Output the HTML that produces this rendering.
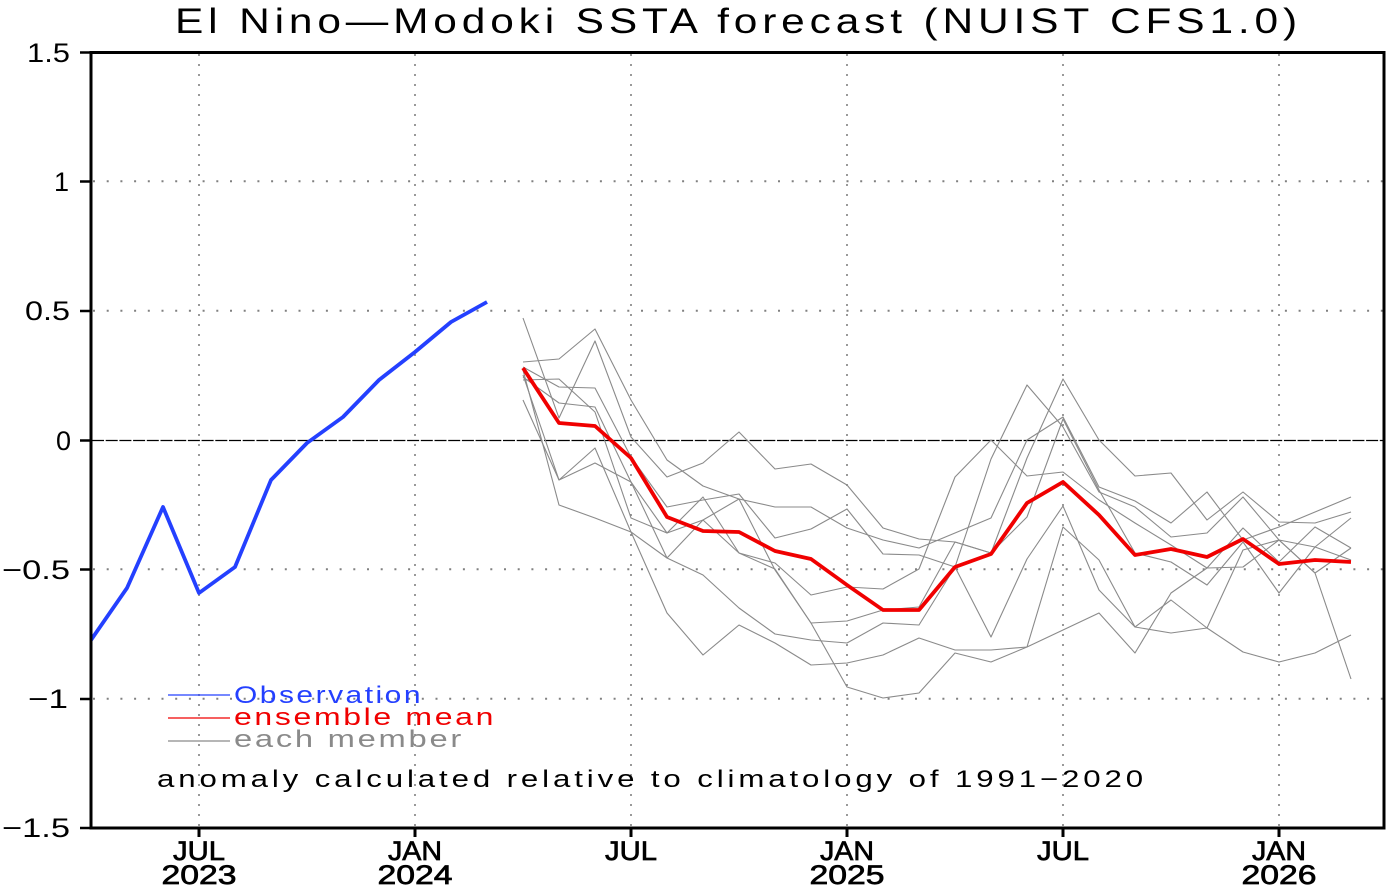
<!DOCTYPE html>
<html>
<head>
<meta charset="utf-8">
<style>
  html,body{margin:0;padding:0;background:#fff;}
  svg{display:block;}
  text{font-family:"Liberation Sans", sans-serif;}
</style>
</head>
<body>
<svg width="1389" height="886" viewBox="0 0 1389 886" xmlns="http://www.w3.org/2000/svg">
  <rect x="0" y="0" width="1389" height="886" fill="#fff"/>

  <!-- Title -->
  <text x="175" y="33" font-size="35" letter-spacing="4" fill="#000" textLength="1127" lengthAdjust="spacingAndGlyphs">El Nino—Modoki SSTA forecast (NUIST CFS1.0)</text>

  <!-- horizontal grid -->
  <g stroke="#808080" stroke-width="2" stroke-dasharray="2,11.7" fill="none">
    <line x1="93" y1="181.3" x2="1383" y2="181.3"/>
    <line x1="93" y1="310.7" x2="1383" y2="310.7"/>
    <line x1="93" y1="569.3" x2="1383" y2="569.3"/>
    <line x1="93" y1="698.7" x2="1383" y2="698.7"/>
  </g>
  <!-- vertical grid -->
  <g stroke="#808080" stroke-width="1.6" stroke-dasharray="2,8" fill="none">
    <line x1="199" y1="54" x2="199" y2="826"/>
    <line x1="415" y1="54" x2="415" y2="826"/>
    <line x1="631" y1="54" x2="631" y2="826"/>
    <line x1="847" y1="54" x2="847" y2="826"/>
    <line x1="1063" y1="54" x2="1063" y2="826"/>
    <line x1="1279" y1="54" x2="1279" y2="826"/>
  </g>
  <!-- zero line -->
  <line x1="92" y1="440.5" x2="1383" y2="440.5" stroke="#000" stroke-width="1.3" stroke-dasharray="12,1.7"/>

  <!-- members -->
  <g stroke="#8a8a8a" stroke-width="1.1" fill="none" stroke-linejoin="round">
    <polyline points="523,362 559,359 595,329 631,400 667,460 703,486 739,499 775,507 811,507 847,528 883,540 919,548 955,533 991,518 1027,440 1063,417 1099,487 1135,501 1171,523 1207,492 1243,540 1279,527 1315,512 1351,497"/>
    <polyline points="523,318 559,418 595,341 631,437 667,477 703,463 739,432 775,469 811,464 847,485 883,528 919,539 955,542 991,553 1027,458 1063,379 1099,440 1135,476 1171,473 1207,520 1243,492 1279,522 1315,523 1351,512"/>
    <polyline points="523,367 559,387 595,388 631,457 667,507 703,500 739,494 775,538 811,529 847,509 883,554 919,555 955,567 991,459 1027,385 1063,427 1099,492 1135,507 1171,537 1207,533 1243,497 1279,540 1315,547 1351,518"/>
    <polyline points="523,377 559,403 595,407 631,482 667,533 703,497 739,553 775,563 811,595 847,587 883,589 919,569 955,477 991,440 1027,476 1063,472 1099,500 1135,523 1171,545 1207,568 1243,528 1279,562 1315,527 1351,548"/>
    <polyline points="523,380 559,379 595,412 631,518 667,533 703,520 739,499 775,570 811,623 847,621 883,610 919,607 955,542 991,553 1027,517 1063,419 1099,490 1135,553 1171,562 1207,585 1243,542 1279,593 1315,547 1351,560"/>
    <polyline points="523,400 559,480 595,448 631,532 667,558 703,575 739,608 775,634 811,640 847,643 883,623 919,625 955,567 991,637 1027,559 1063,506 1099,590 1135,627 1171,600 1207,628 1243,550 1279,540 1315,573 1351,548"/>
    <polyline points="523,370 559,505 595,518 631,532 667,613 703,655 739,625 775,643 811,665 847,663 883,655 919,638 955,650 991,650 1027,647 1063,630 1099,613 1135,653 1171,593 1207,568 1243,567 1279,540 1315,573 1351,679"/>
    <polyline points="523,375 559,480 595,463 631,482 667,558 703,520 739,553 775,569 811,623 847,687 883,698 919,693 955,653 991,662 1027,647 1063,527 1099,560 1135,627 1171,633 1207,628 1243,652 1279,662 1315,653 1351,635"/>
  </g>

  <!-- ensemble mean -->
  <polyline fill="none" stroke="#f00000" stroke-width="3.8" stroke-linejoin="round" points="523,368 559,423 595,426 631,458 667,517 703,531 739,532 775,551 811,559 847,585 883,610 919,610 955,567 991,554 1027,503 1063,482 1099,515 1135,555 1171,549 1207,557 1243,539 1279,564 1315,560 1351,562"/>

  <!-- observation -->
  <polyline fill="none" stroke="#2440ff" stroke-width="3.8" stroke-linejoin="round" points="91,640 127,588 163,507 199,593 235,567 271,480 307,443 343,417 379,380 415,352 451,322 487,302"/>

  <!-- frame -->
  <rect x="91" y="52.5" width="1293" height="775.5" fill="none" stroke="#000" stroke-width="3"/>

  <!-- left ticks -->
  <g stroke="#000" stroke-width="2.5">
    <line x1="80" y1="52.5" x2="91" y2="52.5"/>
    <line x1="80" y1="181.5" x2="91" y2="181.5"/>
    <line x1="80" y1="311" x2="91" y2="311"/>
    <line x1="80" y1="440.5" x2="91" y2="440.5"/>
    <line x1="80" y1="569.5" x2="91" y2="569.5"/>
    <line x1="80" y1="699" x2="91" y2="699"/>
    <line x1="80" y1="828" x2="91" y2="828"/>
  </g>
  <!-- bottom ticks -->
  <g stroke="#000" stroke-width="3">
    <line x1="199" y1="828" x2="199" y2="837"/>
    <line x1="415" y1="828" x2="415" y2="837"/>
    <line x1="631" y1="828" x2="631" y2="837"/>
    <line x1="847" y1="828" x2="847" y2="837"/>
    <line x1="1063" y1="828" x2="1063" y2="837"/>
    <line x1="1279" y1="828" x2="1279" y2="837"/>
  </g>

  <!-- y labels -->
  <g font-size="27" fill="#000" text-anchor="end">
    <text x="70" y="62" textLength="43" lengthAdjust="spacingAndGlyphs">1.5</text>
    <text x="69" y="191">1</text>
    <text x="70" y="320" textLength="45" lengthAdjust="spacingAndGlyphs">0.5</text>
    <text x="71" y="450">0</text>
    <text x="70" y="579" textLength="68" lengthAdjust="spacingAndGlyphs">−0.5</text>
    <text x="68" y="708" textLength="40" lengthAdjust="spacingAndGlyphs">−1</text>
    <text x="70" y="837" textLength="68" lengthAdjust="spacingAndGlyphs">−1.5</text>
  </g>

  <!-- x labels -->
  <g font-size="27" fill="#000" stroke="#000" stroke-width="0.7" text-anchor="middle">
    <text x="199" y="860" textLength="52" lengthAdjust="spacingAndGlyphs">JUL</text>
    <text x="199" y="884" textLength="75" lengthAdjust="spacingAndGlyphs">2023</text>
    <text x="415" y="860" textLength="54" lengthAdjust="spacingAndGlyphs">JAN</text>
    <text x="415" y="884" textLength="75" lengthAdjust="spacingAndGlyphs">2024</text>
    <text x="631" y="860" textLength="52" lengthAdjust="spacingAndGlyphs">JUL</text>
    <text x="847" y="860" textLength="54" lengthAdjust="spacingAndGlyphs">JAN</text>
    <text x="847" y="884" textLength="75" lengthAdjust="spacingAndGlyphs">2025</text>
    <text x="1063" y="860" textLength="52" lengthAdjust="spacingAndGlyphs">JUL</text>
    <text x="1279" y="860" textLength="54" lengthAdjust="spacingAndGlyphs">JAN</text>
    <text x="1279" y="884" textLength="75" lengthAdjust="spacingAndGlyphs">2026</text>
  </g>

  <!-- legend -->
  <line x1="168" y1="695" x2="230" y2="695" stroke="#2440ff" stroke-width="1.2"/>
  <line x1="168" y1="718" x2="230" y2="718" stroke="#f00000" stroke-width="1.2"/>
  <line x1="168" y1="741" x2="230" y2="741" stroke="#8a8a8a" stroke-width="1.2"/>
  <text x="234" y="703" font-size="24" letter-spacing="2" fill="#2440ff" textLength="189" lengthAdjust="spacingAndGlyphs">Observation</text>
  <text x="234" y="725" font-size="24" letter-spacing="2" fill="#f00000" textLength="262" lengthAdjust="spacingAndGlyphs">ensemble mean</text>
  <text x="234" y="747" font-size="24" letter-spacing="2" fill="#8a8a8a" textLength="230" lengthAdjust="spacingAndGlyphs">each member</text>

  <!-- note -->
  <text x="157" y="787" font-size="24" letter-spacing="3" fill="#000" textLength="990" lengthAdjust="spacingAndGlyphs">anomaly calculated relative to climatology of 1991−2020</text>
</svg>
</body>
</html>
